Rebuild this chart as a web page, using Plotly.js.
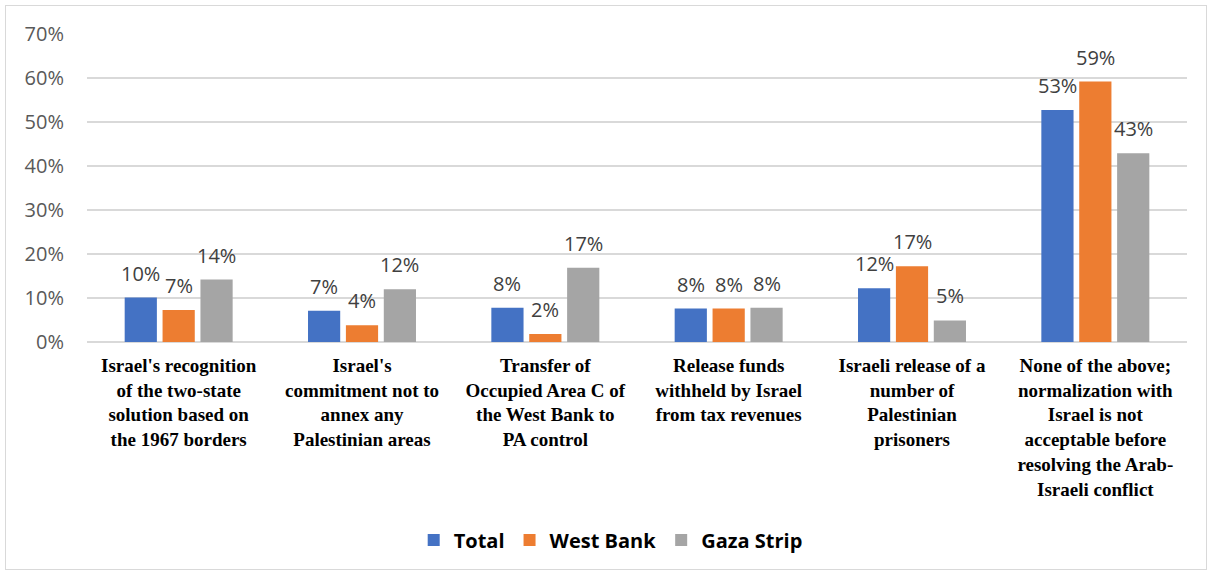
<!DOCTYPE html>
<html>
<head>
<meta charset="utf-8">
<script src="https://cdn.plot.ly/plotly-3.0.1.min.js"></script>
<style>
  html, body { margin: 0; padding: 0; background: #fff; }
  #chart { width: 1212px; height: 575px; }
  #frame { position: absolute; left: 5px; top: 5px; width: 1200px; height: 563px; border: 1.5px solid #d9d9d9; pointer-events: none; }
</style>
</head>
<body>
<div id="chart"></div>
<div id="frame"></div>
<script>
const categories = [
  "Israel's recognition<br>of the two-state<br>solution based on<br>the 1967 borders",
  "Israel's<br>commitment not to<br>annex any<br>Palestinian areas",
  "Transfer of<br>Occupied Area C of<br>the West Bank to<br>PA control",
  "Release funds<br>withheld by Israel<br>from tax revenues",
  "Israeli release of a<br>number of<br>Palestinian<br>prisoners",
  "None of the above;<br>normalization with<br>Israel is not<br>acceptable before<br>resolving the Arab-<br>Israeli conflict"
];
const seriesNames = ["Total", "West Bank", "Gaza Strip"];
const total     = [10.1, 7.1, 7.8, 7.6, 12.2, 52.7];
const westBank  = [7.3, 3.8, 1.8, 7.6, 17.2, 59.2];
const gazaStrip = [14.2, 12.0, 16.9, 7.8, 4.9, 42.9];
const colors = ["#4472C4", "#ED7D31", "#A5A5A5"];
const yTicks = [0, 10, 20, 30, 40, 50, 60, 70];

const seriesValues = [total, westBank, gazaStrip];
const bargap = 0.38;
const nSeries = seriesValues.length;
const slot = (1 - bargap) / nSeries;

const traces = seriesValues.map((vals, k) => ({
  type: 'bar',
  name: seriesNames[k],
  x: categories,
  y: vals,
  marker: { color: colors[k] },
  hoverinfo: 'skip'
}));

const annotations = [];
seriesValues.forEach((vals, k) => {
  vals.forEach((v, i) => {
    annotations.push({
      xref: 'x', yref: 'y',
      x: i + (k - (nSeries - 1) / 2) * slot,
      y: v,
      text: Math.round(v) + '%',
      showarrow: false,
      yanchor: 'bottom',
      yshift: 9,
      font: { family: 'Open Sans, sans-serif', size: 20, color: '#404040' }
    });
  });
});

const layout = {
  width: 1212, height: 575,
  margin: { l: 87, r: 25, t: 34, b: 232.5 },
  paper_bgcolor: '#ffffff',
  plot_bgcolor: '#ffffff',
  barmode: 'group',
  bargap: bargap,
  bargroupgap: 0.15,
  showlegend: true,
  legend: {
    orientation: 'h',
    x: 0.297, xanchor: 'left',
    y: -0.643, yanchor: 'middle',
    font: { family: 'Open Sans, sans-serif', size: 20, color: '#000000', weight: 'bold' },
    itemwidth: 30,
    traceorder: 'normal'
  },
  xaxis: {
    type: 'category',
    tickfont: { family: 'Liberation Serif', size: 19, color: '#000000', weight: 700 },
    showgrid: false,
    showline: false,
    ticks: '',
    tickangle: 0,
    ticklabelstandoff: 10,
    fixedrange: true
  },
  yaxis: {
    range: [0, 70],
    tickvals: yTicks,
    ticktext: yTicks.map(t => t + '%'),
    tickfont: { family: 'Open Sans, sans-serif', size: 20, color: '#595959' },
    showgrid: true,
    gridcolor: '#d9d9d9',
    gridwidth: 1.5,
    zeroline: true,
    zerolinecolor: '#d9d9d9',
    zerolinewidth: 1.5,
    showline: false,
    ticks: '',
    ticklabelstandoff: 22,
    fixedrange: true
  },
  annotations: annotations
};

Plotly.newPlot('chart', traces, layout, { displayModeBar: false, staticPlot: true });
</script>
</body>
</html>
